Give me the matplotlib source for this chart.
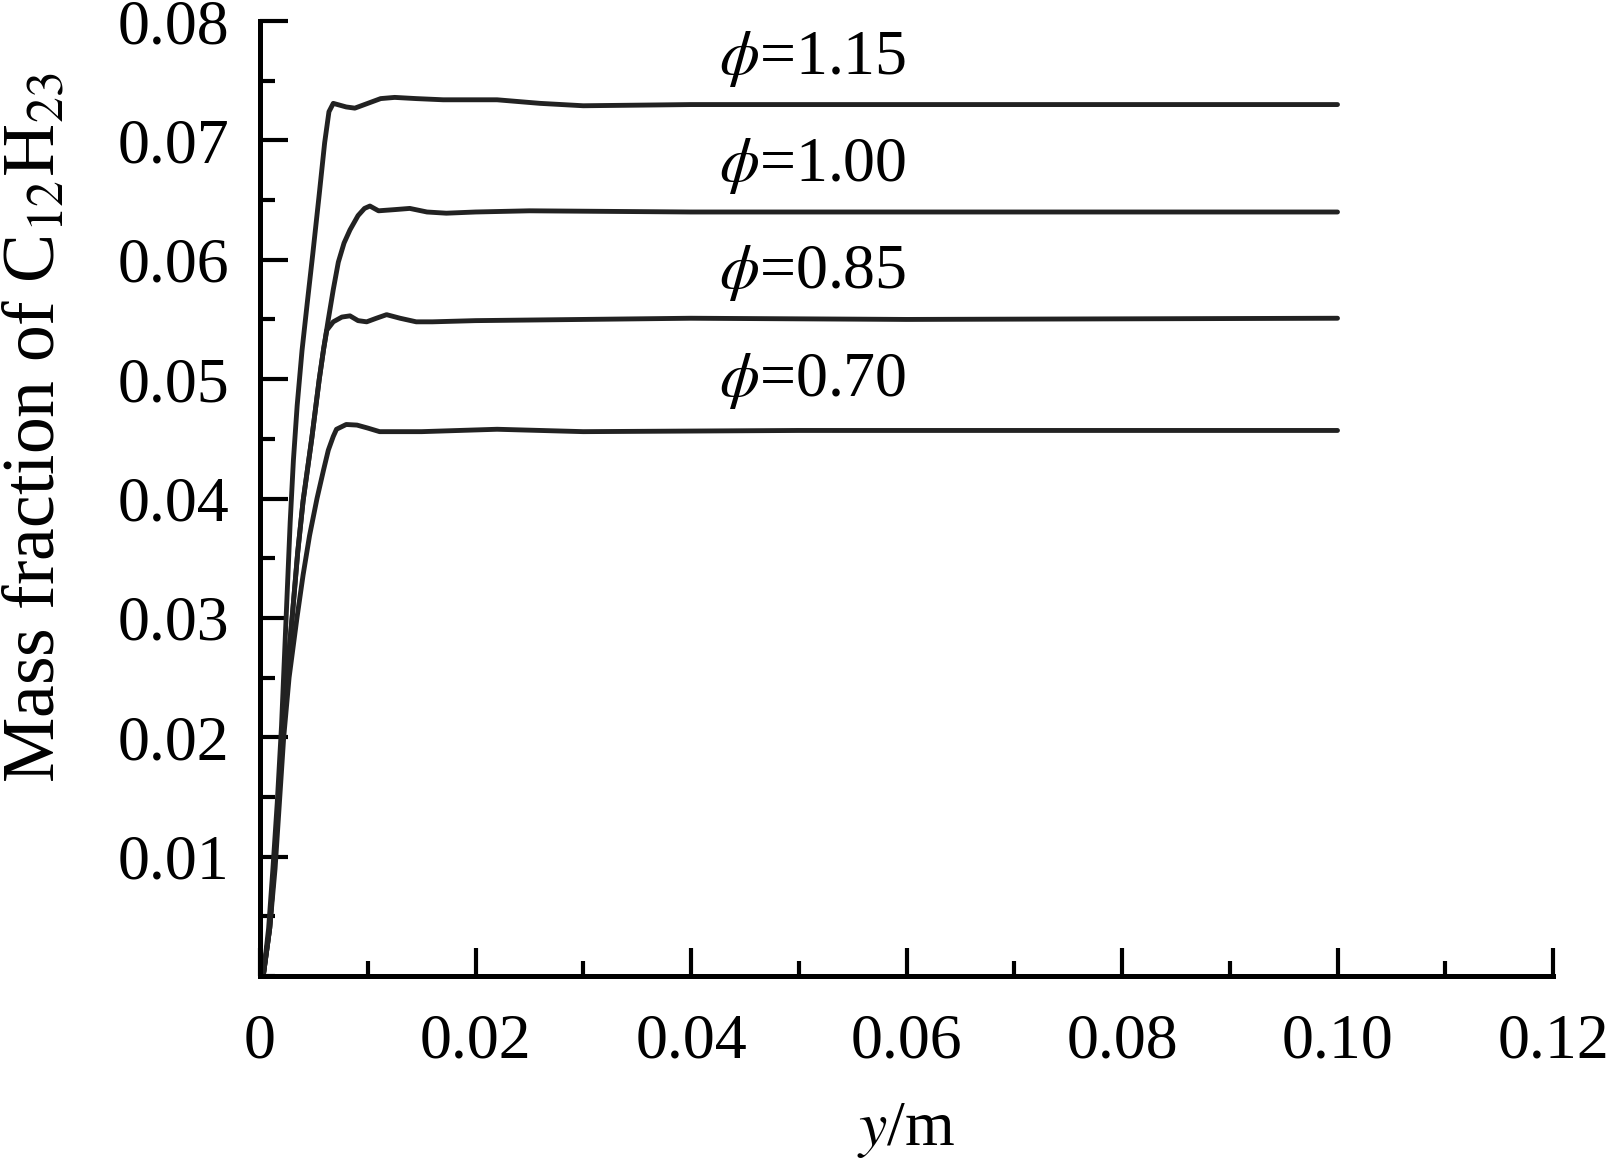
import matplotlib
matplotlib.use("Agg")
import matplotlib.pyplot as plt
from matplotlib.ticker import MultipleLocator

plt.rcParams['font.family'] = ['Liberation Serif', 'DejaVu Serif']
plt.rcParams['mathtext.fontset'] = 'stix'

# ---- data ----
x_115 = [0.0003, 0.0008, 0.0012, 0.0016, 0.0020, 0.0024, 0.0028, 0.0031, 0.00345, 0.0039,
         0.0044, 0.0049, 0.0055, 0.0060, 0.0064, 0.0068, 0.0072, 0.0080, 0.0088, 0.0100,
         0.0112, 0.0125, 0.0145, 0.0170, 0.0220, 0.0260, 0.0300, 0.0400, 0.0600, 0.0800, 0.1000]
y_115 = [0.0000, 0.0040, 0.0090, 0.0145, 0.0210, 0.0295, 0.0380, 0.0432, 0.0478, 0.0524,
         0.0565, 0.0605, 0.0655, 0.0698, 0.0724, 0.0731, 0.0730, 0.0728, 0.0727, 0.0731,
         0.0735, 0.0736, 0.0735, 0.0734, 0.0734, 0.0731, 0.0729, 0.0730, 0.0730, 0.0730, 0.0730]

x_100 = [0.0003, 0.0009, 0.0013, 0.0017, 0.0021, 0.0025, 0.0030, 0.0035, 0.0040, 0.0044,
         0.0048, 0.0055, 0.0059, 0.00634, 0.0068, 0.00727, 0.0078, 0.00835, 0.0091, 0.0097,
         0.0102, 0.0110, 0.0125, 0.0139, 0.0155, 0.0173, 0.0200, 0.0250, 0.0400, 0.0700, 0.1000]
y_100 = [0.0000, 0.0040, 0.0090, 0.0145, 0.0205, 0.0252, 0.0302, 0.0355, 0.0398, 0.0424,
         0.0450, 0.0500, 0.0525, 0.0550, 0.0575, 0.0598, 0.0614, 0.0625, 0.0637, 0.0643,
         0.0645, 0.0641, 0.0642, 0.0643, 0.0640, 0.0639, 0.0640, 0.0641, 0.0640, 0.0640, 0.0640]

x_085 = [0.0003, 0.0009, 0.0013, 0.0017, 0.0021, 0.0025, 0.0030, 0.0035, 0.0040, 0.0044,
         0.0048, 0.0055, 0.0059, 0.0062, 0.0068, 0.0076, 0.00835, 0.0091, 0.0099, 0.0108,
         0.01175, 0.0130, 0.0145, 0.0160, 0.0200, 0.0300, 0.0400, 0.0600, 0.1000]
y_085 = [0.0000, 0.0040, 0.0090, 0.0145, 0.0205, 0.0252, 0.0302, 0.0355, 0.0398, 0.0424,
         0.0450, 0.0500, 0.0525, 0.0541, 0.0548, 0.0552, 0.0553, 0.0549, 0.0548, 0.0551,
         0.0554, 0.0551, 0.0548, 0.0548, 0.0549, 0.0550, 0.0551, 0.0550, 0.0551]

x_070 = [0.0003, 0.0009, 0.0014, 0.0018, 0.0022, 0.0027, 0.00343, 0.0040, 0.0046, 0.00529,
         0.0059, 0.00634, 0.0068, 0.0071, 0.0080, 0.0090, 0.0100, 0.0111, 0.0150, 0.0220,
         0.0300, 0.0500, 0.0700, 0.1000]
y_070 = [0.0000, 0.0040, 0.0090, 0.0145, 0.0200, 0.0250, 0.0300, 0.0336, 0.0369, 0.0400,
         0.0424, 0.04405, 0.0452, 0.0458, 0.0462, 0.04615, 0.0459, 0.0456, 0.0456, 0.0458,
         0.0456, 0.0457, 0.0457, 0.0457]

labels = [r'$\phi$=1.15', r'$\phi$=1.00', r'$\phi$=0.85', r'$\phi$=0.70']
label_x = [0.0513, 0.0513, 0.0513, 0.0513]
label_y = [0.0756, 0.0666, 0.0576, 0.0486]

xticks = [0, 0.02, 0.04, 0.06, 0.08, 0.10, 0.12]
xticklabels = ['0', '0.02', '0.04', '0.06', '0.08', '0.10', '0.12']
yticks = [0.01, 0.02, 0.03, 0.04, 0.05, 0.06, 0.07, 0.08]
yticklabels = ['0.01', '0.02', '0.03', '0.04', '0.05', '0.06', '0.07', '0.08']

# ---- figure ----
W, H = 1621, 1158
fig = plt.figure(figsize=(W / 100, H / 100), dpi=100)
ax = fig.add_axes([260 / W, 1 - 976 / H, (1553 - 260) / W, (976 - 21) / H])

line_kw = dict(color='#222222', lw=3.5, solid_capstyle='round', solid_joinstyle='round')
for xs, ys in [(x_115, y_115), (x_100, y_100), (x_085, y_085), (x_070, y_070)]:
    ax.plot(xs, ys, **line_kw)

for t, tx, ty in zip(labels, label_x, label_y):
    ax.text(tx, ty, t, ha='center', va='baseline', fontsize=46, color='black')

ax.set_xlim(0, 0.12)
ax.set_ylim(0, 0.08)
ax.set_xticks(xticks)
ax.set_xticklabels(xticklabels)
ax.set_yticks(yticks)
ax.set_yticklabels(yticklabels)
ax.xaxis.set_minor_locator(MultipleLocator(0.01))
ax.yaxis.set_minor_locator(MultipleLocator(0.005))

for s in ['top', 'right']:
    ax.spines[s].set_visible(False)
for s in ['left', 'bottom']:
    ax.spines[s].set_linewidth(3.6)
    ax.spines[s].set_color('black')

ax.tick_params(which='major', direction='in', length=20, width=3, labelsize=46, color='black')
ax.tick_params(which='minor', direction='in', length=11, width=3, color='black')
ax.tick_params(axis='y', which='major', pad=22)
ax.tick_params(axis='x', which='major', pad=27)

fig.text(3 / W, 1 - 428 / H, r'Mass fraction of C$_{12}$H$_{23}$', rotation=90,
         ha='left', va='center', fontsize=53)
fig.text(906 / W, 1 - 1145 / H, r'$y$/m', ha='center', va='baseline', fontsize=46)

fig.savefig('out.png', dpi=100)
